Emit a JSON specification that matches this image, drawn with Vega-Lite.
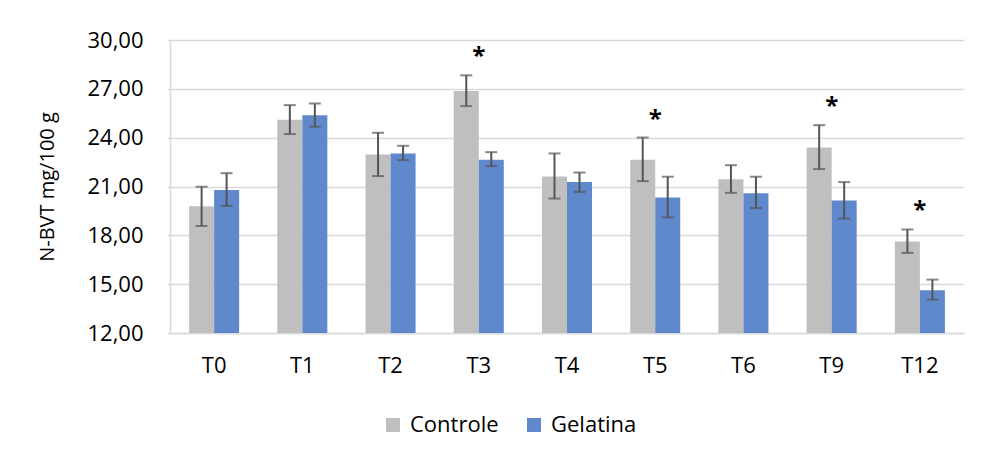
{
  "$schema": "https://vega.github.io/schema/vega-lite/v6.json",
  "width": 794,
  "height": 293,
  "autosize": {"type": "none"},
  "padding": {"left": 170, "top": 40, "right": 22, "bottom": 124},
  "background": "white",
  "config": {
    "view": {"stroke": null},
    "font": "Open Sans",
    "axis": {"labelFont": "Open Sans", "titleFont": "Open Sans", "labelColor": "#000000", "titleColor": "#000000"}
  },
  "data": {
    "values": [
      {"t": "T0", "g": "Controle", "mean": 19.79, "lo": 18.58, "hi": 20.98, "sig": ""},
      {"t": "T0", "g": "Gelatina", "mean": 20.79, "lo": 19.81, "hi": 21.82, "sig": ""},
      {"t": "T1", "g": "Controle", "mean": 25.10, "lo": 24.22, "hi": 26.00, "sig": ""},
      {"t": "T1", "g": "Gelatina", "mean": 25.37, "lo": 24.67, "hi": 26.10, "sig": ""},
      {"t": "T2", "g": "Controle", "mean": 22.97, "lo": 21.64, "hi": 24.30, "sig": ""},
      {"t": "T2", "g": "Gelatina", "mean": 23.03, "lo": 22.62, "hi": 23.50, "sig": ""},
      {"t": "T3", "g": "Controle", "mean": 26.86, "lo": 25.94, "hi": 27.83, "sig": "*"},
      {"t": "T3", "g": "Gelatina", "mean": 22.64, "lo": 22.25, "hi": 23.11, "sig": ""},
      {"t": "T4", "g": "Controle", "mean": 21.62, "lo": 20.26, "hi": 23.03, "sig": ""},
      {"t": "T4", "g": "Gelatina", "mean": 21.27, "lo": 20.67, "hi": 21.86, "sig": ""},
      {"t": "T5", "g": "Controle", "mean": 22.64, "lo": 21.33, "hi": 24.01, "sig": "*"},
      {"t": "T5", "g": "Gelatina", "mean": 20.32, "lo": 19.10, "hi": 21.60, "sig": ""},
      {"t": "T6", "g": "Controle", "mean": 21.45, "lo": 20.61, "hi": 22.31, "sig": ""},
      {"t": "T6", "g": "Gelatina", "mean": 20.59, "lo": 19.67, "hi": 21.60, "sig": ""},
      {"t": "T9", "g": "Controle", "mean": 23.40, "lo": 22.07, "hi": 24.77, "sig": "*"},
      {"t": "T9", "g": "Gelatina", "mean": 20.14, "lo": 19.03, "hi": 21.27, "sig": ""},
      {"t": "T12", "g": "Controle", "mean": 17.62, "lo": 16.92, "hi": 18.36, "sig": "*"},
      {"t": "T12", "g": "Gelatina", "mean": 14.62, "lo": 14.05, "hi": 15.28, "sig": ""}
    ]
  },
  "encoding": {
    "x": {
      "field": "t", "type": "nominal",
      "sort": ["T0", "T1", "T2", "T3", "T4", "T5", "T6", "T9", "T12"],
      "scale": {"paddingInner": 0.433, "paddingOuter": 0.2165},
      "axis": {"title": null, "labelAngle": 0, "labelFontSize": 22, "ticks": false, "labelPadding": 22, "domainColor": "#D9D9D9", "domainWidth": 1.5, "grid": false}
    }
  },
  "layer": [
    {
      "mark": {"type": "bar"},
      "encoding": {
        "xOffset": {"field": "g", "type": "nominal", "scale": {"paddingInner": 0, "paddingOuter": 0}},
        "y": {
          "field": "mean", "type": "quantitative",
          "scale": {"domain": [12, 30], "nice": false, "zero": false},
          "axis": {
            "title": "N-BVT mg/100 g", "titleFontSize": 20, "titleFontWeight": "normal", "titlePadding": 29,
            "values": [12, 15, 18, 21, 24, 27, 30],
            "labelExpr": "replace(format(datum.value, '.2f'), '.', ',')",
            "labelFontSize": 22, "labelPadding": 24,
            "tickSize": 3, "tickColor": "#D9D9D9", "tickWidth": 1.5,
            "domainColor": "#D9D9D9", "domainWidth": 1.5,
            "grid": true, "gridColor": "#D9D9D9", "gridWidth": 1.5
          }
        },
        "y2": {"datum": 12},
        "color": {
          "field": "g", "type": "nominal",
          "scale": {"domain": ["Controle", "Gelatina"], "range": ["#BFBFBF", "#6088CC"]},
          "legend": {
            "title": null, "orient": "none", "direction": "horizontal",
            "legendX": 212, "legendY": 374,
            "symbolType": "square", "symbolSize": 196, "symbolStrokeWidth": 0,
            "labelFontSize": 22, "labelFont": "Open Sans", "labelColor": "#000000",
            "labelOffset": 6, "columnPadding": 24
          }
        }
      }
    },
    {
      "mark": {"type": "rule", "color": "#555555", "strokeWidth": 2},
      "encoding": {
        "xOffset": {"field": "g", "type": "nominal"},
        "y": {"field": "lo", "type": "quantitative"},
        "y2": {"field": "hi"}
      }
    },
    {
      "mark": {"type": "tick", "color": "#555555", "thickness": 2, "size": 12, "orient": "horizontal"},
      "encoding": {
        "xOffset": {"field": "g", "type": "nominal"},
        "y": {"field": "lo", "type": "quantitative"}
      }
    },
    {
      "mark": {"type": "tick", "color": "#555555", "thickness": 2, "size": 12, "orient": "horizontal"},
      "encoding": {
        "xOffset": {"field": "g", "type": "nominal"},
        "y": {"field": "hi", "type": "quantitative"}
      }
    },
    {
      "transform": [{"filter": "datum.sig == '*'"}],
      "mark": {"type": "text", "font": "Open Sans", "fontSize": 24, "fontWeight": "bold", "color": "#000000", "baseline": "alphabetic", "dy": -11},
      "encoding": {
        "y": {"field": "hi", "type": "quantitative"},
        "text": {"field": "sig"}
      }
    }
  ]
}
